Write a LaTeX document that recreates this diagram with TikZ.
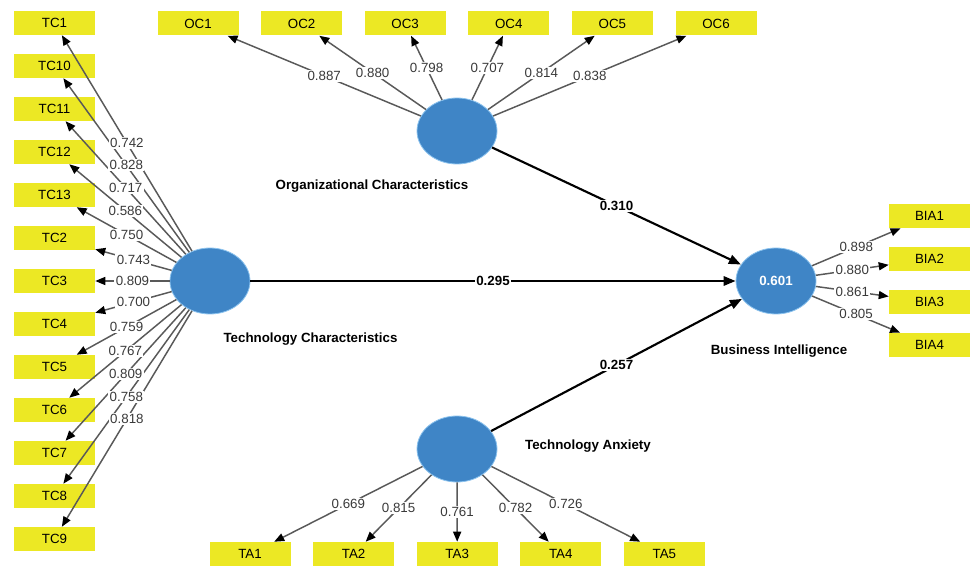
\documentclass[tikz,border=0pt]{standalone}
\usepackage{fontspec}
\setmainfont{Liberation Sans}
\usetikzlibrary{shapes,arrows.meta,positioning}
\definecolor{plsblue}{HTML}{3F85C6}
\definecolor{plsedge}{HTML}{8CC3EE}
\definecolor{plsyellow}{HTML}{ECE824}
\definecolor{loadgray}{HTML}{595959}
\definecolor{loadtext}{HTML}{3A3A3A}
\tikzstyle{latent} = [ellipse,draw=plsedge,line width=0.6pt,fill=plsblue,inner sep=0,minimum width=60pt,minimum height=49.5pt]
\tikzstyle{item} = [rectangle,fill=plsyellow,inner sep=0,minimum width=60.75pt,minimum height=18pt,font=\fontsize{10}{12}\selectfont]
\tikzstyle{loading} = [-{Triangle[length=7.5pt,width=6pt,color=black]},draw=loadgray,line width=1.1pt]
\tikzstyle{structural} = [-{Triangle[length=9pt,width=7pt]},draw=black,line width=1.6pt]
\tikzstyle{coef} = [fill=white,inner sep=1pt,text=loadtext,font=\fontsize{10}{12}\selectfont]
\tikzstyle{pcoef} = [fill=white,inner sep=1pt,font=\bfseries\fontsize{10}{12}\selectfont]
\tikzstyle{latname} = [inner sep=0,font=\bfseries\fontsize{10}{12}\selectfont]

\begin{document}
\begin{tikzpicture}[x=0.75pt,y=-0.75pt]
  \useasboundingbox (0,0) rectangle (971,566);
  \fill[white] (0,0) rectangle (971,566);
  % constructs
  \node[latent] (oc) at (457,131) {};
  \node[latent] (tc) at (210,281) {};
  \node[latent] (ta) at (457,449) {};
  \node[latent,text=white,font=\bfseries\fontsize{10}{12}\selectfont] (bi) at (776,281) {0.601};
  \node[latname] (ocname) at (372,186) {Organizational Characteristics};
  \node[latname] (tcname) at (310.5,339) {Technology Characteristics};
  \node[latname] (taname) at (588,446) {Technology Anxiety};
  \node[latname] (biname) at (779,351) {Business Intelligence};
  % indicators
  \foreach \nm [count=\i from 0] in {1,10,11,12,13,2,3,4,5,6,7,8,9}
    \node[item] (tc\nm) at (54.5,{23+43*\i}) {TC\nm};
  \foreach \i in {1,...,6}
    \node[item] (oc\i) at ({94.4+103.6*\i},23.5) {OC\i};
  \foreach \i in {1,...,5}
    \node[item] (ta\i) at ({146.4+103.6*\i},554) {TA\i};
  \foreach \i in {1,...,4}
    \node[item] (bia\i) at (929.5,{173+43*\i}) {BIA\i};
  % outer loadings
  \foreach \nm in {1,10,11,12,13,2,3,4,5,6,7,8,9}
    \draw[loading] (tc) -- (tc\nm);
  \foreach \i in {1,...,6}
    \draw[loading] (oc) -- (oc\i);
  \foreach \i in {1,...,5}
    \draw[loading] (ta) -- (ta\i);
  \foreach \i in {1,...,4}
    \draw[loading] (bi) -- (bia\i);
  % inner model
  \draw[structural] (oc) -- (bi) node[pcoef,midway] {0.310};
  \draw[structural] (tc) -- (bi) node[pcoef,midway] {0.295};
  \draw[structural] (ta) -- (bi) node[pcoef,midway] {0.257};
  % loading values on top of all lines
  \foreach \nm/\v in {1/0.742,10/0.828,11/0.717,12/0.586,13/0.750,2/0.743,3/0.809,4/0.700,5/0.759,6/0.767,7/0.809,8/0.758,9/0.818}
    \path (tc) -- (tc\nm) node[coef,midway] {\v};
  \foreach \i/\v in {1/0.887,2/0.880,3/0.798,4/0.707,5/0.814,6/0.838}
    \path (oc) -- (oc\i) node[coef,midway] {\v};
  \foreach \i/\v in {1/0.669,2/0.815,3/0.761,4/0.782,5/0.726}
    \path (ta) -- (ta\i) node[coef,midway] {\v};
  \foreach \i/\v in {1/0.898,2/0.880,3/0.861,4/0.805}
    \path (bi) -- (bia\i) node[coef,midway] {\v};
\end{tikzpicture}
\end{document}
